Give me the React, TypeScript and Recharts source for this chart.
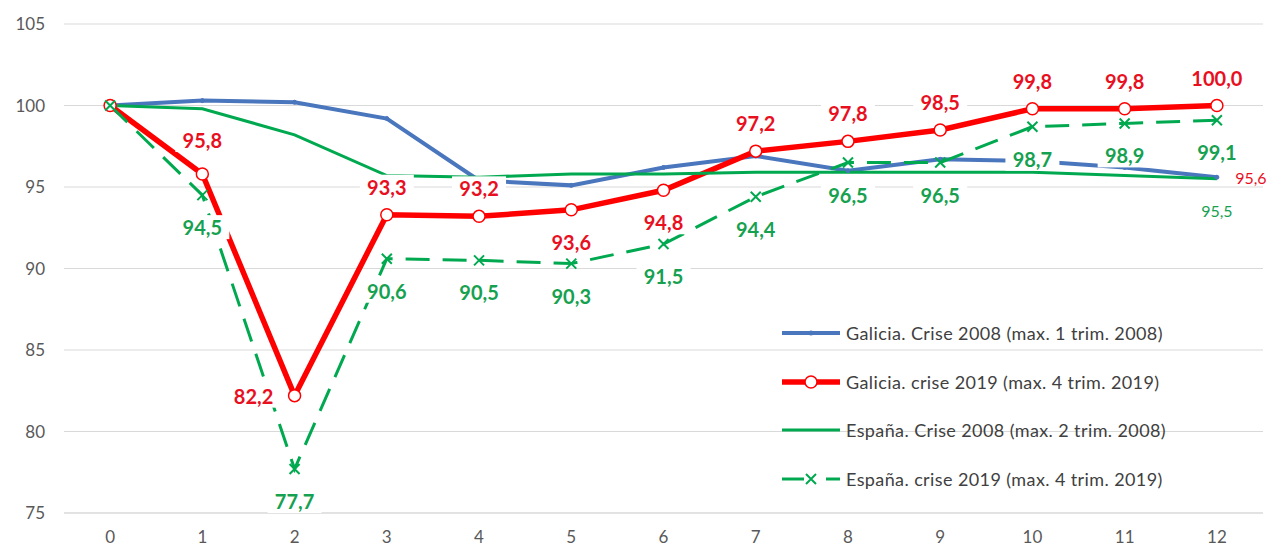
import { CartesianGrid, LabelList, Legend, Line, LineChart, XAxis, YAxis } from "recharts";

const quarters = [0, 1, 2, 3, 4, 5, 6, 7, 8, 9, 10, 11, 12];
const galicia2008 = [100.0, 100.3, 100.2, 99.2, 95.4, 95.1, 96.2, 96.9, 96.0, 96.7, 96.6, 96.2, 95.6];
const galicia2019 = [100.0, 95.8, 82.2, 93.3, 93.2, 93.6, 94.8, 97.2, 97.8, 98.5, 99.8, 99.8, 100.0];
const espana2008 = [100.0, 99.8, 98.2, 95.7, 95.6, 95.8, 95.8, 95.9, 95.9, 95.9, 95.9, 95.7, 95.5];
const espana2019 = [100.0, 94.5, 77.7, 90.6, 90.5, 90.3, 91.5, 94.4, 96.5, 96.5, 98.7, 98.9, 99.1];
const yTicks = [75, 80, 85, 90, 95, 100, 105];
const seriesNames = [
  "Galicia. Crise 2008 (max. 1 trim. 2008)",
  "Galicia. crise 2019 (max. 4 trim. 2019)",
  "España. Crise 2008 (max. 2 trim. 2008)",
  "España. crise 2019 (max. 4 trim. 2019)",
];

// where each point's data label sits ("" = no label)
const g08LabelPos = ["", "", "", "", "", "", "", "", "", "", "", "", "right"];
const g19LabelPos = ["", "top", "left", "top", "top", "bottom", "bottom", "top", "top", "top", "top", "top", "top"];
const e08LabelPos = ["", "", "", "", "", "", "", "", "", "", "", "", "bottom"];
const e19LabelPos = ["", "bottom", "bottom", "bottom", "bottom", "bottom", "bottom", "bottom", "bottom", "bottom", "bottom", "bottom", "bottom"];

const BLUE = "#4a76bd";
const RED = "#ff0000";
const GREEN = "#00a94f";
const RED_TXT = "#e8101f";
const GREEN_TXT = "#16a150";
const FONT = "Lato, 'Open Sans', sans-serif";

const data = quarters.map((q, i) => ({
  q,
  g08: galicia2008[i],
  g19: galicia2019[i],
  e08: espana2008[i],
  e19: espana2019[i],
}));

function makeLabel(pos: string[], color: string, bold: boolean, size: number) {
  return (props: any) => {
    const { x, y, value, index } = props;
    const p = pos[index];
    if (!p || x == null || y == null) return null;
    const text = Number(value).toFixed(1).replace(".", ",");
    const w = text.length * size * 0.5;
    let cx = x;
    let cy = y;
    if (p === "top") cy = y - (index === 1 ? 34 : 28);
    if (p === "bottom") cy = y + 32;
    if (p === "left") cx = x - 21 - w / 2;
    if (p === "right") cx = x + 18 + w / 2;
    return (
      <g key={`lbl-${index}`}>
        {bold && <rect x={cx - w / 2 - 7} y={cy - 12} width={w + 14} height={24} fill="#fff" />}
        <text
          x={cx}
          y={cy}
          textAnchor="middle"
          dominantBaseline="central"
          fill={color}
          fontSize={size}
          fontWeight={bold ? 700 : 400}
          fontFamily={FONT}
        >
          {text}
        </text>
      </g>
    );
  };
}

const crossDot = (props: any) => {
  const { cx, cy, index } = props;
  if (cx == null || cy == null) return <g key={`x-${index}`} />;
  return (
    <path
      key={`x-${index}`}
      d={`M${cx - 5},${cy - 5}L${cx + 5},${cy + 5}M${cx + 5},${cy - 5}L${cx - 5},${cy + 5}`}
      stroke={GREEN}
      strokeWidth={2}
      fill="none"
    />
  );
};

function LegendIcon({ i }: { i: number }) {
  if (i === 0)
    return (
      <svg width={62} height={20}>
        <line x1={2} y1={10} x2={60} y2={10} stroke={BLUE} strokeWidth={4} />
        <circle cx={31} cy={10} r={2.5} fill={BLUE} />
      </svg>
    );
  if (i === 1)
    return (
      <svg width={62} height={20}>
        <line x1={2} y1={10} x2={60} y2={10} stroke={RED} strokeWidth={5.5} />
        <circle cx={31} cy={10} r={6} fill="#fff" stroke={RED} strokeWidth={1.5} />
      </svg>
    );
  if (i === 2)
    return (
      <svg width={62} height={20}>
        <line x1={2} y1={10} x2={60} y2={10} stroke={GREEN} strokeWidth={3} />
      </svg>
    );
  return (
    <svg width={62} height={20}>
      <line x1={2} y1={10} x2={24} y2={10} stroke={GREEN} strokeWidth={3} />
      <path d="M26,5L36,15M36,5L26,15" stroke={GREEN} strokeWidth={2} />
      <line x1={46} y1={10} x2={60} y2={10} stroke={GREEN} strokeWidth={3} />
    </svg>
  );
}

function LegendBox() {
  return (
    <div style={{ display: "flex", flexDirection: "column" }}>
      {seriesNames.map((name, i) => (
        <div key={name} style={{ display: "flex", alignItems: "center", height: 48.5 }}>
          <LegendIcon i={i} />
          <span
            style={{
              marginLeft: 4,
              fontSize: 18,
              letterSpacing: 0.4,
              color: "#404040",
              fontFamily: FONT,
              whiteSpace: "nowrap",
            }}
          >
            {name}
          </span>
        </div>
      ))}
    </div>
  );
}

export default function App() {
  return (
    <div style={{ position: "absolute", left: 0, top: 0, background: "#fff" }}>
      <LineChart width={1271} height={548} data={data} margin={{ top: 24, right: 8, bottom: 0, left: 0 }}>
        <CartesianGrid vertical={false} stroke="#d9d9d9" />
        <XAxis
          dataKey="q"
          type="number"
          domain={[-0.5, 12.5]}
          ticks={quarters}
          height={35}
          tickSize={0}
          tickMargin={18}
          axisLine={{ stroke: "#d9d9d9" }}
          tick={{ fill: "#595959", fontSize: 17, fontFamily: FONT }}
        />
        <YAxis
          domain={[75, 105]}
          ticks={yTicks}
          width={64}
          tickSize={0}
          tickMargin={19}
          axisLine={false}
          tick={{ fill: "#595959", fontSize: 17, fontFamily: FONT }}
        />
        <Legend
          layout="vertical"
          align="center"
          verticalAlign="middle"
          content={() => <LegendBox />}
          wrapperStyle={{ position: "absolute", left: 780, top: 309, width: 460, height: 200 }}
        />
        <Line
          dataKey="g08"
          name={seriesNames[0]}
          stroke={BLUE}
          strokeWidth={4}
          dot={{ r: 2, fill: BLUE, stroke: BLUE, strokeWidth: 1 }}
          isAnimationActive={false}
        />
        <Line
          dataKey="g19"
          name={seriesNames[1]}
          stroke={RED}
          strokeWidth={5.5}
          dot={{ r: 6, fill: "#fff", stroke: RED, strokeWidth: 1.5 }}
          isAnimationActive={false}
        />
        <Line
          dataKey="e08"
          name={seriesNames[2]}
          stroke={GREEN}
          strokeWidth={3}
          dot={false}
          isAnimationActive={false}
        />
        <Line
          dataKey="e19"
          name={seriesNames[3]}
          stroke={GREEN}
          strokeWidth={3}
          strokeDasharray="24 13"
          dot={crossDot}
          isAnimationActive={false}
        />
        {/* label-only layers so data labels sit above every line */}
        <Line dataKey="g08" stroke="none" dot={false} legendType="none" isAnimationActive={false}>
          <LabelList dataKey="g08" content={makeLabel(g08LabelPos, RED_TXT, false, 16)} />
        </Line>
        <Line dataKey="e08" stroke="none" dot={false} legendType="none" isAnimationActive={false}>
          <LabelList dataKey="e08" content={makeLabel(e08LabelPos, GREEN_TXT, false, 16)} />
        </Line>
        <Line dataKey="g19" stroke="none" dot={false} legendType="none" isAnimationActive={false}>
          <LabelList dataKey="g19" content={makeLabel(g19LabelPos, RED_TXT, true, 20)} />
        </Line>
        <Line dataKey="e19" stroke="none" dot={false} legendType="none" isAnimationActive={false}>
          <LabelList dataKey="e19" content={makeLabel(e19LabelPos, GREEN_TXT, true, 20)} />
        </Line>
      </LineChart>
    </div>
  );
}
